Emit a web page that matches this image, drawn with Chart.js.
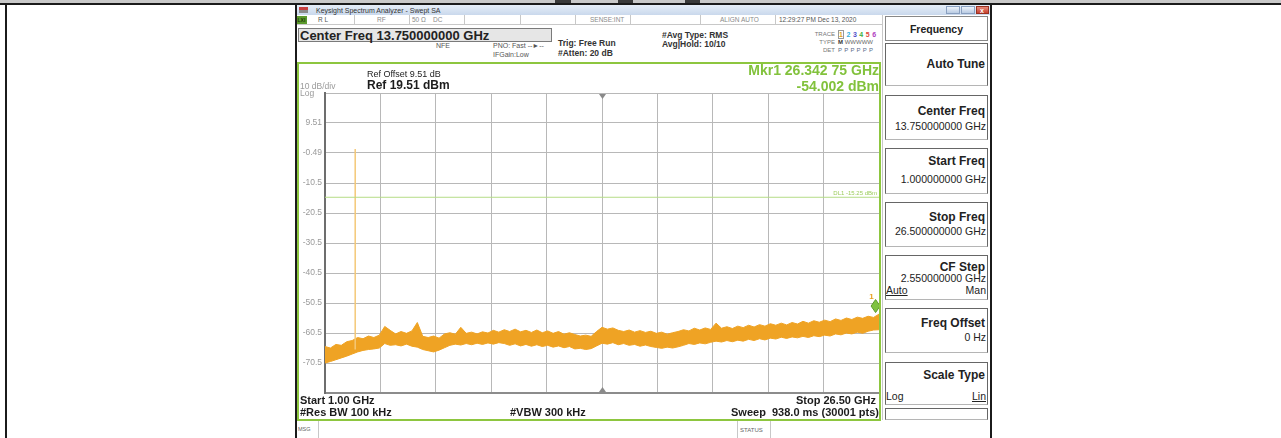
<!DOCTYPE html>
<html><head><meta charset="utf-8">
<script src="https://cdn.jsdelivr.net/npm/chart.js@4/dist/chart.umd.min.js"></script>
<style>
body{margin:0;width:1281px;height:438px;overflow:hidden;background:#fff;position:relative;font-family:"Liberation Sans",Arial,sans-serif;}
.a{position:absolute;white-space:nowrap;line-height:1;}
.b{position:absolute;box-sizing:border-box;}
.st{font-size:6.5px;color:#8a8a8a;top:16.5px;}
.sep{position:absolute;top:15px;width:1px;height:10px;background:#c8c8c8;}
.sk{position:absolute;left:885px;width:103px;box-sizing:border-box;border:1px solid #666;border-bottom-color:#b5b5b5;background:#fff;}
.skt{font-size:12px;font-weight:bold;color:#222;right:296px;}
.skv{font-size:10.5px;color:#222;right:295px;}
.bt{font-size:11px;font-weight:bold;color:#1c1c1c;}
</style></head>
<body>
<!-- outer frame -->
<div class="b" style="left:0;top:0;width:1281px;height:3px;background:#c9c9c9"></div>
<div class="b" style="left:555px;top:0;width:16px;height:3px;background:#3a3a3a"></div>
<div class="b" style="left:618px;top:0;width:15px;height:3px;background:#3a3a3a"></div>
<div class="b" style="left:685px;top:0;width:15px;height:3px;background:#3a3a3a"></div>
<div class="b" style="left:0;top:3px;width:1281px;height:2px;background:#1b1b1b"></div>
<div class="b" style="left:5px;top:3px;width:2px;height:435px;background:#1b1b1b"></div>
<div class="b" style="left:295px;top:3px;width:2px;height:435px;background:#1b1b1b"></div>
<div class="b" style="left:990px;top:3px;width:2px;height:435px;background:#1b1b1b"></div>

<!-- title bar -->
<div class="b" style="left:297px;top:5px;width:693px;height:10px;background:linear-gradient(#e6eef8,#c9d8ec)"></div>
<div class="b" style="left:299px;top:7px;width:9px;height:6px;background:linear-gradient(#c84040 0 45%,#8a8a8a 45%)"></div>
<div class="a" style="left:316px;top:6.5px;font-size:7px;color:#333">Keysight Spectrum Analyzer - Swept SA</div>
<div class="b" style="left:946px;top:6px;width:14px;height:8px;background:linear-gradient(#eef3fa,#b9cbe3);border:1px solid #8aa0c0"></div>
<div class="b" style="left:961px;top:6px;width:14px;height:8px;background:linear-gradient(#eef3fa,#b9cbe3);border:1px solid #8aa0c0"></div>
<div class="b" style="left:976px;top:6px;width:13px;height:8px;background:linear-gradient(#e88a7a,#c8402e);border:1px solid #983020"></div>
<div class="a" style="left:980px;top:6.5px;font-size:7px;color:#fff;font-weight:bold">x</div>

<!-- status row -->
<div class="b" style="left:297px;top:15px;width:585px;height:10px;background:#fff;border-bottom:1px solid #c8c8c8"></div>
<div class="b" style="left:297px;top:16px;width:10px;height:8px;background:#5c9a2c"></div>
<div class="a" style="left:297.5px;top:17.5px;font-size:5px;color:#1c3a08;font-weight:bold">LXI</div>
<div class="a st" style="left:318px;color:#555">R L</div>
<div class="a st" style="left:377px">RF</div>
<div class="a st" style="left:412px">50 Ω</div>
<div class="a st" style="left:433px">DC</div>
<div class="a st" style="left:590px">SENSE:INT</div>
<div class="a st" style="left:720px">ALIGN AUTO</div>
<div class="a st" style="left:779px;color:#555">12:29:27 PM Dec 13, 2020</div>
<div class="sep" style="left:354px"></div><div class="sep" style="left:409px"></div>
<div class="sep" style="left:464px"></div><div class="sep" style="left:520px"></div>
<div class="sep" style="left:575px"></div><div class="sep" style="left:630px"></div>
<div class="sep" style="left:700px"></div><div class="sep" style="left:775px"></div>
<div class="sep" style="left:882px"></div>

<!-- settings rows -->
<div class="b" style="left:298px;top:28px;width:254px;height:14px;background:#e6e6e6;border:1px solid #7a7a7a"></div>
<div class="a" style="left:300px;top:28.5px;font-size:13px;font-weight:bold;color:#222">Center Freq 13.750000000 GHz</div>
<div class="a" style="left:436px;top:41.5px;font-size:7px;color:#555">NFE</div>
<div class="a" style="left:493px;top:41.5px;font-size:7px;color:#555">PNO: Fast <span style="color:#555">--►--</span></div>
<div class="a" style="left:493px;top:50.5px;font-size:7px;color:#555">IFGain:Low</div>
<div class="a" style="left:558px;top:38.5px;font-size:8.5px;font-weight:bold;color:#333">Trig: Free Run</div>
<div class="a" style="left:558px;top:48.5px;font-size:8.5px;font-weight:bold;color:#333">#Atten: 20 dB</div>
<div class="a" style="left:662px;top:30.5px;font-size:8.5px;font-weight:bold;color:#333">#Avg Type: RMS</div>
<div class="a" style="left:662px;top:39.5px;font-size:8.5px;font-weight:bold;color:#333">Avg|Hold: 10/10</div>
<div class="a" style="right:446px;top:31px;font-size:6px;color:#777">TRACE</div>
<div class="a" style="right:446px;top:39px;font-size:6px;color:#777">TYPE</div>
<div class="a" style="right:446px;top:47px;font-size:6px;color:#777">DET</div>
<div class="a" style="left:838px;top:30.5px;font-size:7px;font-weight:bold;letter-spacing:0.3px"><span style="color:#e0a020;border:1px solid #999">1</span> <span style="color:#33b0e0">2</span> <span style="color:#5050c8">3</span> <span style="color:#40b040">4</span> <span style="color:#e04a3a">5</span> <span style="color:#b040c0">6</span></div>
<div class="a" style="left:838px;top:39px;font-size:6px;color:#666"><b style="color:#333">M</b> WWWWW</div>
<div class="a" style="left:838px;top:47px;font-size:6px;color:#5a6a8a;letter-spacing:2.2px">PPPPPP</div>

<!-- right softkey panel -->
<div class="b" style="left:882px;top:15px;width:1px;height:405px;background:#c8c8c8"></div>
<div class="b" style="left:885px;top:16px;width:103px;height:25px;border:1px solid #888;background:#fff"></div>
<div class="a" style="left:885px;width:103px;text-align:center;top:23.75px;font-size:10.5px;font-weight:bold;color:#222">Frequency</div>
<div class="sk" style="top:43px;height:43px"></div>
<div class="sk" style="top:95px;height:45px"></div>
<div class="sk" style="top:148px;height:46px"></div>
<div class="sk" style="top:202px;height:45px"></div>
<div class="sk" style="top:255px;height:45px"></div>
<div class="sk" style="top:308px;height:45px"></div>
<div class="sk" style="top:362px;height:43px"></div>
<div class="sk" style="top:408px;height:12px"></div>
<div class="a skt" style="top:58px">Auto Tune</div>
<div class="a skt" style="top:105px">Center Freq</div>
<div class="a skv" style="top:120.5px">13.750000000 GHz</div>
<div class="a skt" style="top:155px">Start Freq</div>
<div class="a skv" style="top:173.5px">1.000000000 GHz</div>
<div class="a skt" style="top:210.5px">Stop Freq</div>
<div class="a skv" style="top:226px">26.500000000 GHz</div>
<div class="a skt" style="top:261px">CF Step</div>
<div class="a skv" style="top:272.5px">2.550000000 GHz</div>
<div class="a" style="left:886px;top:284.5px;font-size:10.5px;color:#222;text-decoration:underline">Auto</div>
<div class="a skv" style="top:284.5px">Man</div>
<div class="a skt" style="top:317px">Freq Offset</div>
<div class="a skv" style="top:331.5px">0 Hz</div>
<div class="a skt" style="top:369px">Scale Type</div>
<div class="a" style="left:886px;top:391px;font-size:10.5px;color:#222">Log</div>
<div class="a skv" style="top:391px;text-decoration:underline">Lin</div>

<!-- chart -->
<div style="position:absolute;left:296px;top:62px;width:584px;height:340px;z-index:1"><canvas id="c"></canvas></div>

<!-- green display frame -->
<div class="b" style="left:298px;top:62px;width:583px;height:2px;background:#8dc63f;z-index:2"></div>
<div class="b" style="left:297px;top:62px;width:2px;height:359px;background:#8dc63f;z-index:2"></div>
<div class="b" style="left:879px;top:62px;width:2px;height:359px;background:#8dc63f;z-index:2"></div>
<div class="b" style="left:297px;top:419px;width:584px;height:2px;background:#8dc63f;z-index:2"></div>

<!-- display annotations -->
<div class="a" style="left:367px;top:69.5px;font-size:9px;color:#222;z-index:3">Ref Offset 9.51 dB</div>
<div class="a" style="left:367px;top:79px;font-size:12px;font-weight:bold;color:#1c1c1c;z-index:3">Ref 19.51 dBm</div>
<div class="a" style="left:300px;top:81.5px;font-size:8.5px;color:#9a9a9a;z-index:3">10 dB/div</div>
<div class="a" style="left:300px;top:88.5px;font-size:8.5px;color:#9a9a9a;z-index:3">Log</div>
<div class="a" style="right:402px;top:63px;font-size:14px;font-weight:bold;color:#82c23c;z-index:3">Mkr1 26.342 75 GHz</div>
<div class="a" style="right:402px;top:78.5px;font-size:14px;font-weight:bold;color:#82c23c;z-index:3">-54.002 dBm</div>
<div class="a bt" style="left:300px;top:394.5px;z-index:3">Start 1.00 GHz</div>
<div class="a bt" style="left:300px;top:406.5px;z-index:3">#Res BW 100 kHz</div>
<div class="a bt" style="left:510px;top:406.5px;z-index:3">#VBW 300 kHz</div>
<div class="a bt" style="right:405px;top:394.5px;z-index:3">Stop 26.50 GHz</div>
<div class="a bt" style="right:402px;top:406.5px;z-index:3">Sweep&nbsp;&nbsp;938.0 ms (30001 pts)</div>

<!-- message bar -->
<div class="b" style="left:318px;top:421px;width:1px;height:17px;background:#c8c8c8"></div>
<div class="a" style="left:298px;top:426.5px;font-size:5.5px;color:#666">MSG</div>
<div class="b" style="left:737px;top:421px;width:1px;height:17px;background:#c8c8c8"></div>
<div class="b" style="left:770px;top:421px;width:1px;height:17px;background:#c8c8c8"></div>
<div class="a" style="left:740px;top:427px;font-size:6px;color:#666">STATUS</div>

<script>
// ---- data ----
const noiseFreqGHz = [1.00,1.25,1.50,1.75,2.00,2.25,2.50,2.75,3.00,3.25,3.50,3.75,4.00,4.25,4.50,4.75,5.00,5.25,5.50,5.75,
  6.00,6.25,6.50,6.75,7.00,7.25,7.50,7.75,8.00,8.25,8.50,8.75,9.00,9.25,9.50,9.75,10.00,10.25,10.50,10.75,
  11.00,11.25,11.50,11.75,12.00,12.25,12.50,12.75,13.00,13.25,13.50,13.75,14.00,14.25,14.50,14.75,15.00,15.25,15.50,15.75,
  16.00,16.25,16.50,16.75,17.00,17.25,17.50,17.75,18.00,18.25,18.50,18.75,19.00,19.25,19.50,19.75,20.00,20.25,20.50,20.75,
  21.00,21.25,21.50,21.75,22.00,22.25,22.50,22.75,23.00,23.25,23.50,23.75,24.00,24.25,24.50,24.75,25.00,25.25,25.50,25.75,
  26.00,26.25,26.50];
const noiseUpperDbm = [-65.0,-65.5,-64.3,-64.6,-63.4,-63.0,-62.0,-62.4,-61.5,-62.0,-61.2,-58.3,-59.6,-60.8,-60.0,-60.6,-59.8,-57.0,-61.6,-62.0,
  -61.5,-62.2,-60.8,-60.4,-60.9,-58.6,-60.6,-60.2,-60.8,-60.1,-60.5,-59.6,-60.2,-59.4,-60.0,-59.2,-60.1,-59.6,-60.3,-59.5,
  -60.4,-59.8,-60.6,-60.0,-60.9,-60.4,-61.0,-61.5,-61.2,-61.6,-60.0,-58.6,-59.2,-58.8,-59.6,-60.0,-59.5,-60.2,-59.7,-60.3,
  -59.9,-60.6,-60.2,-60.9,-60.4,-60.0,-59.4,-59.8,-58.9,-59.5,-58.8,-59.3,-57.2,-58.9,-58.4,-59.0,-58.2,-58.7,-57.9,-58.5,
  -57.7,-58.2,-57.4,-57.9,-57.2,-57.8,-57.0,-57.5,-56.6,-57.2,-56.4,-56.9,-56.2,-56.7,-55.8,-56.3,-55.5,-56.0,-55.2,-55.6,
  -54.9,-55.3,-54.2];
const noiseLowerDbm = [-70.5,-70.0,-69.4,-68.8,-68.2,-67.5,-66.8,-66.3,-66.0,-65.8,-65.5,-64.0,-64.6,-64.4,-64.8,-64.2,-64.9,-65.2,-66.0,-66.4,
  -66.8,-66.2,-65.4,-64.6,-64.2,-64.5,-64.0,-64.4,-63.9,-64.3,-63.8,-64.2,-63.7,-64.0,-64.6,-64.1,-64.8,-64.3,-64.9,-64.4,
  -65.0,-64.6,-65.2,-64.8,-65.4,-65.0,-65.8,-65.6,-66.0,-65.7,-64.8,-63.9,-64.2,-63.7,-64.4,-64.0,-64.6,-64.3,-64.9,-64.5,
  -65.0,-65.3,-65.6,-65.2,-65.5,-65.1,-64.6,-64.0,-64.3,-63.8,-64.1,-63.6,-63.2,-63.5,-63.0,-63.4,-62.9,-63.2,-62.6,-63.0,
  -62.4,-62.8,-62.2,-62.5,-61.9,-62.3,-61.8,-62.1,-61.6,-62.0,-61.4,-61.7,-61.2,-61.5,-60.8,-61.1,-60.5,-60.8,-60.2,-60.6,
  -59.9,-59.5,-59.4];
const spikeFreqGHz = [2.39];
const spikePeakDbm = [0.84];
const spikeBaseDbm = [-66.0];
const displayLineDbm = [-15.25];
const displayLineLabel = ['DL1 -15.25 dBm'];
const markerFreqGHz = [26.34275];
const markerDbm = [-54.002];
const centerFreqGHz = [13.75];
const xGridGHz = [1.00,3.55,6.10,8.65,11.20,13.75,16.30,18.85,21.40,23.95,26.50];
const yGridDbm = [-80.49,-70.49,-60.49,-50.49,-40.49,-30.49,-20.49,-10.49,-0.49,9.51,19.51];
const yTickLabels = ['','-70.5','-60.5','-50.5','-40.5','-30.5','-20.5','-10.5','-0.49','9.51',''];

const ORANGE = '#efa324';
const toXY = (xs, ys) => xs.map((x, i) => ({x: x, y: ys[i]}));

const extras = {
  id: 'extras',
  afterDatasetsDraw(chart) {
    const {ctx, chartArea: a, scales: {x, y}} = chart;
    ctx.save();
    ctx.font = '6px "Liberation Sans", Arial, sans-serif';
    ctx.fillStyle = '#9ccd5c';
    ctx.textAlign = 'right';
    ctx.textBaseline = 'bottom';
    ctx.fillText(displayLineLabel[0], a.right - 2, y.getPixelForValue(displayLineDbm[0]) - 0.5);
    const cx = Math.round(x.getPixelForValue(centerFreqGHz[0])) + 0.5;
    ctx.fillStyle = '#8a8a8a';
    ctx.beginPath(); ctx.moveTo(cx - 3.5, a.top + 1); ctx.lineTo(cx + 3.5, a.top + 1); ctx.lineTo(cx, a.top + 6); ctx.closePath(); ctx.fill();
    ctx.beginPath(); ctx.moveTo(cx - 3.5, a.bottom - 1); ctx.lineTo(cx + 3.5, a.bottom - 1); ctx.lineTo(cx, a.bottom - 6); ctx.closePath(); ctx.fill();
    const mx = x.getPixelForValue(markerFreqGHz[0]);
    const my = y.getPixelForValue(markerDbm[0]);
    ctx.beginPath();
    ctx.moveTo(mx, my - 1); ctx.lineTo(mx + 4.5, my - 7.5); ctx.lineTo(mx, my - 14); ctx.lineTo(mx - 4.5, my - 7.5); ctx.closePath();
    ctx.fillStyle = '#7fc241'; ctx.fill();
    ctx.strokeStyle = '#5d9a2c'; ctx.lineWidth = 1; ctx.stroke();
    ctx.font = 'bold 8px "Liberation Sans", Arial, sans-serif';
    ctx.fillStyle = '#e8a020'; ctx.textAlign = 'center'; ctx.textBaseline = 'bottom';
    ctx.fillText('1', mx - 4, my - 13);
    ctx.restore();
  }
};

new Chart(document.getElementById('c'), {
  type: 'line',
  data: {
    datasets: [
      {data: [{x: xGridGHz[0], y: displayLineDbm[0]}, {x: xGridGHz[xGridGHz.length - 1], y: displayLineDbm[0]}],
       borderColor: '#b5dc86', borderWidth: 1, pointRadius: 0, fill: false},
      {data: [{x: spikeFreqGHz[0], y: spikeBaseDbm[0]}, {x: spikeFreqGHz[0], y: spikePeakDbm[0]}],
       borderColor: '#f4c877', borderWidth: 1.5, pointRadius: 0, fill: false},
      {data: toXY(noiseFreqGHz, noiseLowerDbm), borderColor: ORANGE, borderWidth: 1, pointRadius: 0, fill: false, tension: 0},
      {data: toXY(noiseFreqGHz, noiseUpperDbm), borderColor: ORANGE, borderWidth: 1, pointRadius: 0, fill: '-1', backgroundColor: ORANGE, tension: 0}
    ]
  },
  options: {
    responsive: true, maintainAspectRatio: false, animation: false,
    layout: {padding: {top: 31, right: 1, bottom: 9, left: 0}},
    plugins: {legend: {display: false}, tooltip: {enabled: false}},
    scales: {
      x: {type: 'linear', min: 1, max: 26.5,
          afterBuildTicks: s => { s.ticks = xGridGHz.map(v => ({value: v})); },
          afterFit: s => { s.height = 0; },
          ticks: {display: false},
          grid: {color: '#b8b8b8', lineWidth: 1, drawTicks: false},
          border: {display: true, color: '#8c8c8c', width: 2}},
      y: {type: 'linear', min: -80.49, max: 19.51,
          afterBuildTicks: s => { s.ticks = yGridDbm.map(v => ({value: v})); },
          afterFit: s => { s.width = 29; },
          ticks: {autoSkip: false, padding: 3, color: '#9a9a9a',
                  font: {family: '"Liberation Sans", Arial, sans-serif', size: 8.5},
                  callback: v => { const i = yGridDbm.findIndex(g => Math.abs(g - v) < 1e-6); return i >= 0 ? yTickLabels[i] : ''; }},
          grid: {color: '#b8b8b8', lineWidth: 1, drawTicks: false},
          border: {display: true, color: '#6e6e6e', width: 2}}
    }
  },
  plugins: [extras]
});
</script>
</body></html>
